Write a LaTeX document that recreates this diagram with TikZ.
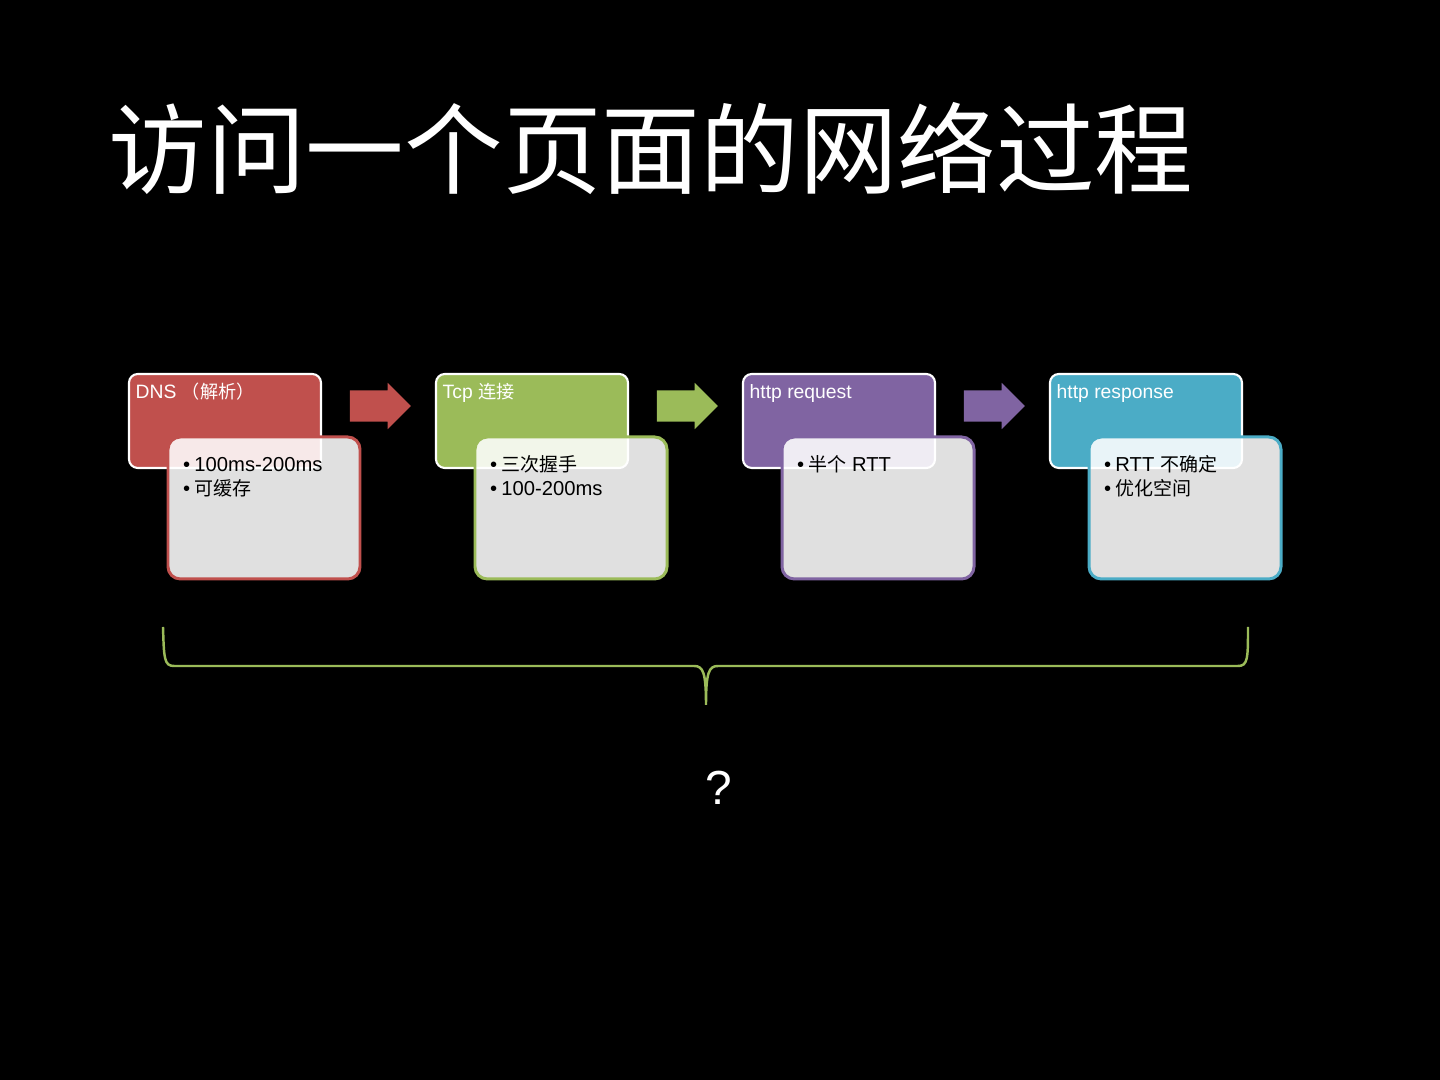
\documentclass[tikz,border=0pt]{standalone}
\usepackage{fontspec}
\setmainfont{Liberation Sans}
\newfontfamily\cjk[Scale=0.94]{Noto Sans CJK SC}
\usetikzlibrary{shapes.arrows,positioning,calc}
\definecolor{dnsred}{HTML}{C0504D}
\definecolor{tcpgreen}{HTML}{9BBB59}
\definecolor{reqpurple}{HTML}{8064A2}
\definecolor{respblue}{HTML}{4BACC6}

\tikzset{
  stage/.style={draw=white,line width=0.6pt,rounded corners=2.5pt,minimum width=1.92cm,minimum height=0.94cm,inner sep=0pt},
  note/.style={line width=0.85pt,rounded corners=3.5pt,fill=white,fill opacity=0.88,minimum width=1.92cm,minimum height=1.42cm,inner sep=0pt},
  stagetext/.style={text=white,font=\fontsize{5.5}{6.6}\selectfont,inner sep=0pt,anchor=base west},
  notetext/.style={text=black,font=\fontsize{5.75}{6.8}\selectfont,inner sep=0pt,anchor=base west},
  flow/.style={single arrow,single arrow head extend=0.075cm,minimum height=0.61cm,minimum width=0.45cm,inner sep=0.15cm},
  bracepath/.style={draw=tcpgreen,line width=0.7pt}
}

\begin{document}
\begin{tikzpicture}
  \useasboundingbox (0,0) rectangle (14.4,10.8);
  \fill[black] (0,0) rectangle (14.4,10.8);

  \node[text=white,font=\fontsize{29.85}{32}\selectfont\cjk,inner sep=0pt,anchor=west] (heading) at (1.08,9.31) {访问一个页面的网络过程};

  % stages
  \node[stage,fill=dnsred] (dns) at (2.25,6.59) {};
  \node[note,draw=dnsred] (dnsnote) at (2.64,5.72) {};
  \node[stage,fill=tcpgreen] (tcp) at (5.32,6.59) {};
  \node[note,draw=tcpgreen] (tcpnote) at (5.71,5.72) {};
  \node[stage,fill=reqpurple] (req) at (8.39,6.59) {};
  \node[note,draw=reqpurple] (reqnote) at (8.78,5.72) {};
  \node[stage,fill=respblue] (resp) at (11.46,6.59) {};
  \node[note,draw=respblue] (respnote) at (11.85,5.72) {};

  \node[stagetext] (dnstitle) at ($(dns.north west)+(0.07,-0.26)$) {DNS {\cjk （解析）}};
  \node[stagetext] (tcptitle) at ($(tcp.north west)+(0.07,-0.26)$) {Tcp {\cjk 连接}};
  \node[stagetext] (reqtitle) at ($(req.north west)+(0.07,-0.26)$) {http request};
  \node[stagetext] (resptitle) at ($(resp.north west)+(0.07,-0.26)$) {http response};

  \node[notetext] (dnsA) at ($(dnsnote.north west)+(0.16,-0.36)$) {•\hspace{1.2pt}100ms-200ms};
  \node[notetext] (dnsB) at ($(dnsA.base west)+(0,-0.24)$) {•\hspace{1.2pt}{\cjk 可缓存}};
  \node[notetext] (tcpA) at ($(tcpnote.north west)+(0.16,-0.36)$) {•\hspace{1.2pt}{\cjk 三次握手}};
  \node[notetext] (tcpB) at ($(tcpA.base west)+(0,-0.24)$) {•\hspace{1.2pt}100-200ms};
  \node[notetext] (reqA) at ($(reqnote.north west)+(0.16,-0.36)$) {•\hspace{1.2pt}{\cjk 半个} RTT};
  \node[notetext] (respA) at ($(respnote.north west)+(0.16,-0.36)$) {•\hspace{1.2pt}RTT {\cjk 不确定}};
  \node[notetext] (respB) at ($(respA.base west)+(0,-0.24)$) {•\hspace{1.2pt}{\cjk 优化空间}};

  % arrows between stages
  \node[flow,fill=dnsred] (go1) at (3.725,6.74) {};
  \node[flow,fill=tcpgreen] (go2) at (6.795,6.74) {};
  \node[flow,fill=reqpurple] (go3) at (9.865,6.74) {};

  % brace
  \coordinate (braceL) at (1.63,4.53);
  \coordinate (braceR) at (12.48,4.53);
  \coordinate (braceTip) at (7.06,3.75);
  \draw[bracepath] (braceL) .. controls (1.64,4.22) and (1.64,4.14) .. (1.74,4.14) -- (6.94,4.14)
    .. controls (7.03,4.14) and (7.06,4.08) .. (braceTip)
    .. controls (7.06,4.08) and (7.09,4.14) .. (7.18,4.14) -- (12.38,4.14)
    .. controls (12.48,4.14) and (12.48,4.22) .. (braceR);

  \node[text=white,font=\fontsize{13.6}{16}\selectfont,inner sep=0pt] (ask) at (7.19,2.92) {?};
\end{tikzpicture}
\end{document}
